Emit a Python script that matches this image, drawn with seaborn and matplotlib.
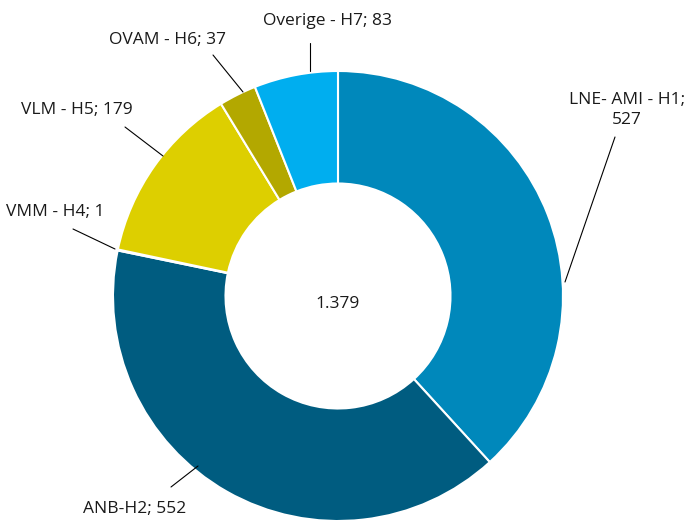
import matplotlib
matplotlib.use("Agg")
import matplotlib.pyplot as plt
import seaborn as sns

# %% data
labels = ["LNE- AMI - H1;\n527", "ANB-H2; 552", "VMM - H4; 1", "VLM - H5; 179",
          "OVAM - H6; 37", "Overige - H7; 83"]
values = [527, 552, 1, 179, 37, 83]
colors = ["#0088BB", "#005C80", "#7FB2CC", "#DDCF00", "#B3A800", "#00AEEF"]
total_label = "1.379"

# label layout in pixel coords: (text x, text y, line start x, y, line end x, y)
label_pos = [
    (627, 110, 565, 282, 615, 137),
    (135, 509, 198, 466, 171, 487),
    (55, 212, 115, 249, 73, 229),
    (77, 110, 163, 156, 125, 127),
    (168, 40, 243, 92, 213, 55),
    (328, 21, 310, 71, 310, 43),
]

# %% plot
sns.set_theme(style="white")
plt.rcParams["font.family"] = ["Open Sans", "DejaVu Sans"]

W, H = 691, 522
fig = plt.figure(figsize=(W / 100, H / 100), dpi=100)
ax = fig.add_axes([0, 0, 1, 1])

cx, cy, r = 338, H - 296, 225
ax.pie(values, colors=colors, startangle=90, counterclock=False,
       center=(cx, cy), radius=r, frame=True,
       wedgeprops=dict(width=r * 0.5, edgecolor="white", linewidth=1.5))
ax.set_xlim(0, W)
ax.set_ylim(0, H)
ax.set_aspect("equal")
ax.axis("off")

for lab, (tx, ty, x0, y0, x1, y1) in zip(labels, label_pos):
    ax.plot([x0, x1], [H - y0, H - y1], color="black", lw=0.8)
    ax.text(tx, H - ty, lab, ha="center", va="center", fontsize=12.5,
            color="#1a1a1a", linespacing=1.25)

ax.text(cx, cy - 8, total_label, ha="center", va="center", fontsize=12.5, color="#1a1a1a")

fig.savefig("out.png", dpi=100)
